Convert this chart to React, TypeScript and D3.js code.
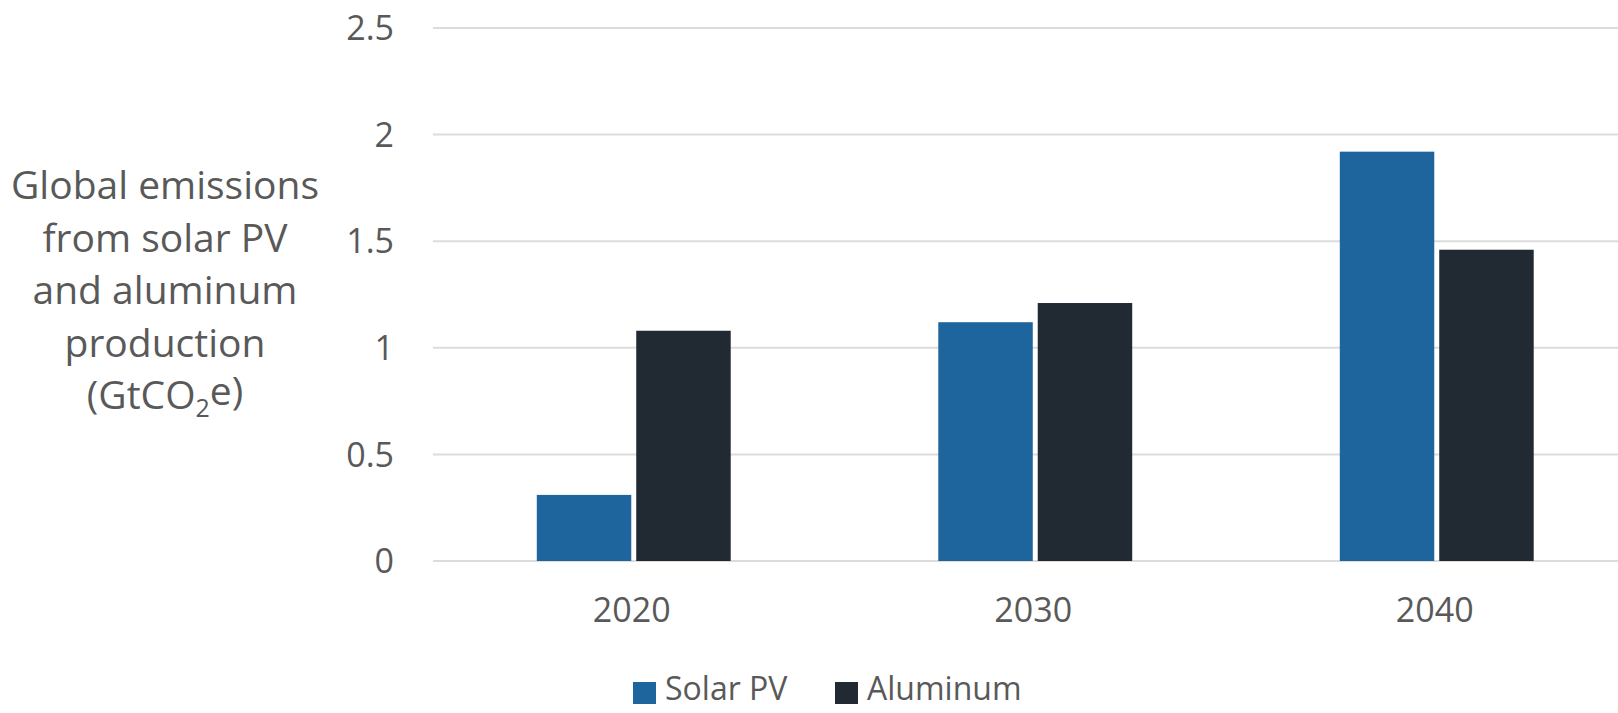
import React from "react";
import * as d3 from "d3";

const categories = ["2020", "2030", "2040"];
const seriesNames = ["Solar PV", "Aluminum"];
const solarPV = [0.31, 1.12, 1.92];
const aluminum = [1.08, 1.21, 1.46];
const yTicks = [0, 0.5, 1, 1.5, 2, 2.5];
const yTickLabels = ["0", "0.5", "1", "1.5", "2", "2.5"];
const titleLines = ["Global emissions", "from solar PV", "and aluminum", "production"];

const colors: Record<string, string> = { "Solar PV": "#1d659c", Aluminum: "#212a33" };
const W = 1618;
const H = 713;
const FONT = "'Open Sans', sans-serif";
const TEXT = "#595959";

export default function App() {
  const y = d3.scaleLinear().domain([0, 2.5]).range([561, 28]);
  const x0 = d3
    .scaleBand<string>()
    .domain(categories)
    .range([433, 1637.5])
    .paddingInner(0.517)
    .paddingOuter(0.2585);
  const x1 = d3.scaleBand<string>().domain(seriesNames).range([0, x0.bandwidth()]).paddingInner(0.05);
  const seriesValues: Record<string, number[]> = { "Solar PV": solarPV, Aluminum: aluminum };

  return (
    <svg
      width={W}
      height={H}
      style={{ position: "absolute", left: 0, top: 0, background: "#fff" }}
      fontFamily={FONT}
    >
      <rect x={0} y={0} width={W} height={H} fill="#fff" />
      {yTicks.map((t, i) => (
        <g key={t}>
          <line x1={433} x2={W} y1={y(t)} y2={y(t)} stroke="#dcdcdc" strokeWidth={2} />
          <text x={394} y={y(t)} dy="0.36em" textAnchor="end" fontSize={34} fill={TEXT}>
            {yTickLabels[i]}
          </text>
        </g>
      ))}
      {categories.map((c, ci) => (
        <g key={c} transform={`translate(${x0(c)},0)`}>
          {seriesNames.map((s) => (
            <rect
              key={s}
              x={x1(s)}
              width={x1.bandwidth()}
              y={y(seriesValues[s][ci])}
              height={y(0) - y(seriesValues[s][ci])}
              fill={colors[s]}
            />
          ))}
          <text
            x={x0.bandwidth() / 2 - 2}
            y={610}
            dy="0.36em"
            textAnchor="middle"
            fontSize={34}
            fill={TEXT}
          >
            {c}
          </text>
        </g>
      ))}
      <g fill={TEXT} fontSize={39} textAnchor="middle">
        {titleLines.map((l, i) => (
          <text key={l} x={165} y={185 + i * 52.5} dy="0.36em">
            {l}
          </text>
        ))}
        <text x={165} y={185 + 4 * 52.5} dy="0.36em">
          (GtCO<tspan fontSize={25} dy="0.3em">2</tspan>
          <tspan dy="-0.3em">e)</tspan>
        </text>
      </g>
      <g fontSize={32} fill={TEXT}>
        <rect x={633} y={682} width={23} height={22} fill={colors["Solar PV"]} />
        <text x={665} y={688} dy="0.36em">
          {seriesNames[0]}
        </text>
        <rect x={835} y={682} width={23} height={22} fill={colors["Aluminum"]} />
        <text x={867} y={688} dy="0.36em">
          {seriesNames[1]}
        </text>
      </g>
    </svg>
  );
}
